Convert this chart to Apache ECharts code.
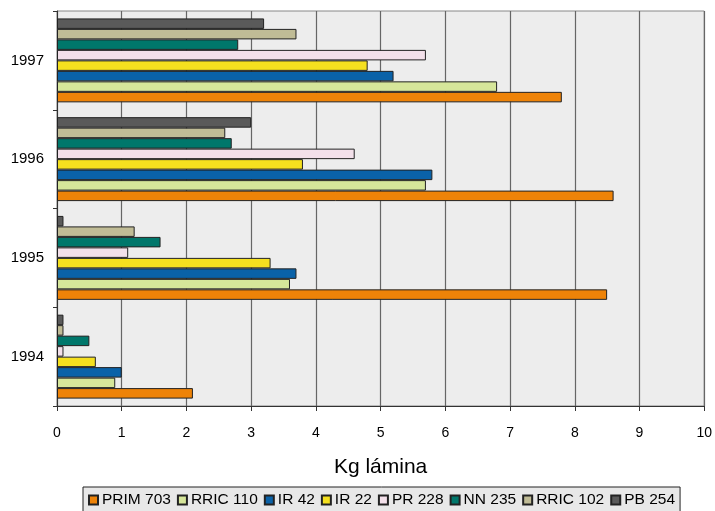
<!DOCTYPE html>
<html><head><meta charset="utf-8">
<script src="https://cdn.jsdelivr.net/npm/echarts@6/dist/echarts.min.js"></script>
<style>html,body{margin:0;padding:0;background:#fff}#c{width:715px;height:511px}</style>
</head><body><div id="c"></div>
<script>
const categories = ['1994','1995','1996','1997'];
const seriesNames = ['PRIM 703','RRIC 110','IR 42','IR 22','PR 228','NN 235','RRIC 102','PB 254'];
const prim703 = [2.1, 8.5, 8.6, 7.8];
const rric110 = [0.9, 3.6, 5.7, 6.8];
const ir42 = [1.0, 3.7, 5.8, 5.2];
const ir22 = [0.6, 3.3, 3.8, 4.8];
const pr228 = [0.1, 1.1, 4.6, 5.7];
const nn235 = [0.5, 1.6, 2.7, 2.8];
const rric102 = [0.1, 1.2, 2.6, 3.7];
const pb254 = [0.1, 0.1, 3.0, 3.2];
const xTicks = [0,1,2,3,4,5,6,7,8,9,10];
const values = [prim703, rric110, ir42, ir22, pr228, nn235, rric102, pb254];
const colors = ['#EE8308','#D6E69A','#0A62A8','#F5E01F','#F3E0EA','#00776B','#C0BC96','#5A5A5A'];

const order = [7,6,5,4,3,2,1,0];
const chart = echarts.init(document.getElementById('c'));
chart.setOption({
  animation:false,
  grid:{left:57,right:6,top:11,bottom:105,show:true,backgroundColor:'#EDEDED',borderColor:'#888',borderWidth:1},
  xAxis:{type:'value',min:0,max:10,interval:1,
    name:'Kg lámina',nameLocation:'middle',nameGap:51,
    nameTextStyle:{fontFamily:'Liberation Sans',fontSize:21,color:'#000'},
    axisLine:{show:true,lineStyle:{color:'#333'}},
    axisTick:{show:true,length:5,lineStyle:{color:'#333'}},
    axisLabel:{fontFamily:'Liberation Sans',fontSize:14,color:'#000',margin:20,
      formatter:v=>String(xTicks[Math.round(v)])},
    splitLine:{show:true,lineStyle:{color:'#666',width:1.2}}},
  yAxis:{type:'category',data:categories,
    axisLine:{show:true,lineStyle:{color:'#333'}},
    axisTick:{show:true,length:4,lineStyle:{color:'#333'}},
    axisLabel:{fontFamily:'Liberation Sans',fontSize:15,color:'#000',margin:13}},
  legend:{top:487,left:83,width:700,itemGap:6,itemWidth:9,itemHeight:9,
    padding:[5,5,8,5],backgroundColor:'#E8E8E8',borderColor:'#222',borderWidth:1,
    icon:'rect',textStyle:{fontFamily:'Liberation Sans',fontSize:15.5,color:'#000',padding:[0,0,0,-1]},
    data:seriesNames},
  series:order.map(i=>({name:seriesNames[i],type:'bar',data:values[i],
    barGap:'0%',barCategoryGap:'15%',
    itemStyle:{color:colors[i],borderColor:'#222',borderWidth:1}}))
});
</script></body></html>
